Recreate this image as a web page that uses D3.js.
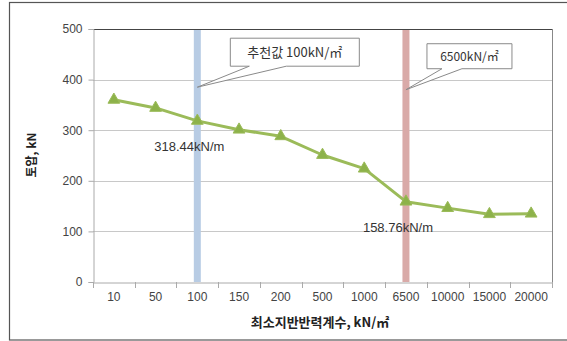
<!DOCTYPE html>
<html><head><meta charset="utf-8">
<script src="https://cdn.jsdelivr.net/npm/d3@7/dist/d3.min.js"></script>
<style>body{margin:0;background:#fff}svg{display:block}</style>
</head><body><svg id="c" width="567" height="341"></svg>
<script>
const categories = ["10","50","100","150","200","500","1000","6500","10000","15000","20000"];
const values = [360, 344, 318.44, 301, 288, 251, 224, 158.76, 146, 134, 135];
const yTicks = [0,100,200,300,400,500];
const markers = [{cat:"100", color:"#b8cce4"}, {cat:"6500", color:"#d9aaa8"}];
const callouts = [
  {cat:"100", text:"추천값 100kN/㎡", value:385},
  {cat:"6500", text:"6500kN/㎡", value:380}
];
const dataLabels = [{cat:"100", value:318.44, text:"318.44kN/m"},{cat:"6500", value:158.76, text:"158.76kN/m"}];

const svg = d3.select("#c");
const m = {l:93, t:29, r:552, b:282};
const x = d3.scaleBand().domain(categories).range([m.l, m.r]);
const y = d3.scaleLinear().domain([0,500]).range([m.b, m.t]);
const numFont = "'Liberation Sans', Arial, sans-serif";
const korFont = "'Noto Sans CJK KR', sans-serif";

// outer border
svg.append("rect").attr("x",9.5).attr("y",2.5).attr("width",570).attr("height",337.5)
  .attr("fill","none").attr("stroke","#555").attr("stroke-width",1.2);

// gridlines
svg.append("g").selectAll("line").data(yTicks.filter(d=>d>0&&d<500)).join("line")
  .attr("x1",m.l).attr("x2",m.r).attr("y1",d=>Math.round(y(d))+0.5).attr("y2",d=>Math.round(y(d))+0.5)
  .attr("stroke","#c8c8c8").attr("stroke-width",1);

// vertical marker bars
svg.append("g").selectAll("rect").data(markers).join("rect")
  .attr("x",d=>x(d.cat)+x.bandwidth()/2-3.5).attr("width",7)
  .attr("y",y(500)).attr("height",y(0)-y(500)).attr("fill",d=>d.color);

// plot border top/right
svg.append("line").attr("x1",m.l).attr("x2",m.r).attr("y1",m.t+0.5).attr("y2",m.t+0.5).attr("stroke","#444").attr("stroke-width",1.2);
svg.append("line").attr("x1",m.r+0.5).attr("x2",m.r+0.5).attr("y1",m.t).attr("y2",m.b).attr("stroke","#888");

// y axis
const ya = d3.axisLeft(y).tickValues(yTicks).tickSize(5).tickPadding(6);
const yg = svg.append("g").attr("transform",`translate(${m.l+0.5},0)`).call(ya);
yg.select(".domain").attr("stroke","#aaa");
yg.selectAll(".tick line").attr("stroke","#aaa");
yg.selectAll("text").attr("font-family",numFont).attr("font-size",12).attr("fill","#444");

// x axis
const xa = d3.axisBottom(x).tickSize(0).tickPadding(10);
const xg = svg.append("g").attr("transform",`translate(0,${m.b+0.5})`).call(xa);
xg.select(".domain").attr("stroke","#aaa");
xg.selectAll("text").attr("font-family",numFont).attr("font-size",12).attr("fill","#444");
svg.append("g").selectAll("line").data(categories.concat(["end"])).join("line")
  .attr("x1",(d,i)=>Math.round(m.l + i*x.step())+0.5).attr("x2",(d,i)=>Math.round(m.l + i*x.step())+0.5)
  .attr("y1",m.b).attr("y2",m.b+6).attr("stroke","#aaa");

// line
const line = d3.line().x((d,i)=>x(categories[i])+x.bandwidth()/2).y(d=>y(d));
svg.append("path").datum(values).attr("d",line).attr("fill","none")
  .attr("stroke","#9bbb59").attr("stroke-width",3).attr("stroke-linejoin","round");
const tri = d3.symbol().type(d3.symbolTriangle).size(60);
svg.append("g").selectAll("path").data(values).join("path")
  .attr("d",tri).attr("transform",(d,i)=>`translate(${x(categories[i])+x.bandwidth()/2},${y(d)})`)
  .attr("fill","#8db24a").attr("stroke","#9bbb59");

// data labels
svg.append("g").selectAll("text").data(dataLabels).join("text")
  .attr("x",d=>x(d.cat)+x.bandwidth()/2-8).attr("y",d=>y(d.value)+30)
  .attr("text-anchor","middle").attr("font-family",numFont).attr("font-size",13).attr("fill","#333")
  .text(d=>d.text);

// callouts
const boxes = [
  {w:129, h:28, dx:33, dy:-49, fs:13, wa:52, wb:89},
  {w:85, h:25, dx:21, dy:-46, fs:12, wa:36, wb:56}
];
callouts.forEach((c,i)=>{
  const b = boxes[i];
  const px = x(c.cat)+x.bandwidth()/2, py = y(c.value);
  const bx = px + b.dx, by = py + b.dy;
  const g = svg.append("g");
  g.append("path").attr("d",`M${bx},${by}H${bx+b.w}V${by+b.h}H${px+b.wb}L${px},${py}L${px+b.wa},${by+b.h}H${bx}Z`)
    .attr("fill","#fff").attr("stroke","#8a8a8a").attr("stroke-width",1);
  g.append("text").attr("x",bx+b.w/2).attr("y",by+b.h/2+4.5).attr("text-anchor","middle")
    .attr("font-family",korFont).attr("font-size",b.fs).attr("fill","#333").text(c.text);
});

// axis titles
svg.append("text").attr("transform","translate(36,155) rotate(-90)").attr("text-anchor","middle")
  .attr("font-family",korFont).attr("font-weight","bold").attr("font-size",12).attr("fill","#222").text("토압, kN");
svg.append("text").attr("x",320).attr("y",327).attr("text-anchor","middle")
  .attr("font-family",korFont).attr("font-weight","bold").attr("font-size",13).attr("fill","#222").text("최소지반반력계수, kN/㎡");
</script></body></html>
